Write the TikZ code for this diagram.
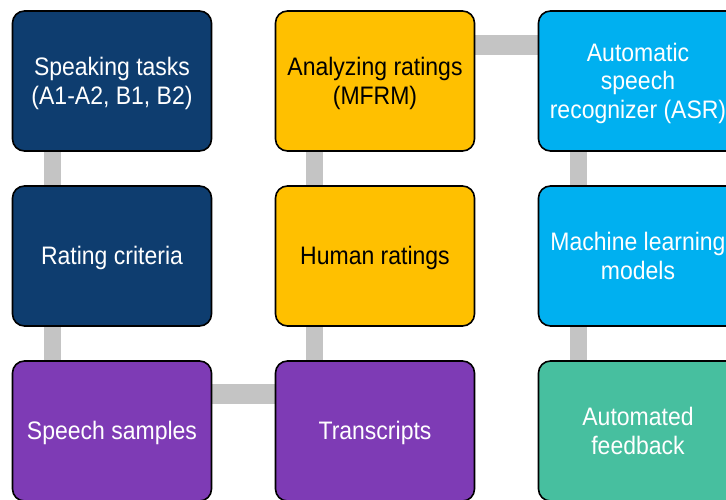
\documentclass[tikz,border=0pt]{standalone}
\usepackage{fontspec}
\usepackage{graphicx}
\setmainfont{Liberation Sans}
\usetikzlibrary{backgrounds}
\definecolor{dblue}{HTML}{0E3D6F}
\definecolor{gold}{HTML}{FFC000}
\definecolor{lblue}{HTML}{00B0F0}
\definecolor{purp}{HTML}{7E3BB5}
\definecolor{teal2}{HTML}{47BF9F}
\definecolor{connc}{HTML}{C4C4C4}
\newcommand\vtxt[1]{\raisebox{-3pt}[\height][\depth]{\scalebox{1}[1.1]{\begin{tabular}{@{}c@{}}#1\end{tabular}}}}
\begin{document}
\begin{tikzpicture}[x=1pt,y=1pt,
  box/.style={draw=black,line width=1.6pt,rounded corners=12pt,minimum width=199pt,minimum height=140pt,
    align=center,inner sep=2pt,font=\fontsize{23}{26}\selectfont},
  wt/.style={box,text=white},
  bk/.style={box,text=black},
  vconn/.style={draw=connc,line width=17pt},
  hconn/.style={draw=connc,line width=20pt}]
\useasboundingbox (0,0) rectangle (726,499);
\node[wt,fill=dblue] (st) at (112,418) {\vtxt{Speaking tasks\\(A1-A2, B1, B2)}};
\node[wt,fill=dblue] (rc) at (112,243) {\vtxt{Rating criteria}};
\node[wt,fill=purp] (ss) at (112,68) {\vtxt{Speech samples}};
\node[wt,fill=purp] (tr) at (375,68) {\vtxt{Transcripts}};
\node[bk,fill=gold] (hr) at (375,243) {\vtxt{Human ratings}};
\node[bk,fill=gold] (ar) at (375,418) {\vtxt{Analyzing ratings\\(MFRM)}};
\node[wt,fill=lblue] (asr) at (638,418) {\vtxt{Automatic\\speech\\recognizer (ASR)}};
\node[wt,fill=lblue] (ml) at (638,243) {\vtxt{Machine learning\\models}};
\node[wt,fill=teal2] (af) at (638,68) {\vtxt{Automated\\feedback}};
\begin{scope}[on background layer]
\draw[vconn] ([xshift=41pt]st.south west) -- ([xshift=41pt]rc.north west);
\draw[vconn] ([xshift=41pt]rc.south west) -- ([xshift=41pt]ss.north west);
\draw[hconn] ([yshift=-34pt]ss.north east) -- ([yshift=-34pt]tr.north west);
\draw[vconn] ([xshift=40pt]tr.north west) -- ([xshift=40pt]hr.south west);
\draw[vconn] ([xshift=40pt]hr.north west) -- ([xshift=40pt]ar.south west);
\draw[hconn] ([yshift=-35pt]ar.north east) -- ([yshift=-35pt]asr.north west);
\draw[vconn] ([xshift=41pt]asr.south west) -- ([xshift=41pt]ml.north west);
\draw[vconn] ([xshift=41pt]ml.south west) -- ([xshift=41pt]af.north west);
\end{scope}
\end{tikzpicture}
\end{document}
